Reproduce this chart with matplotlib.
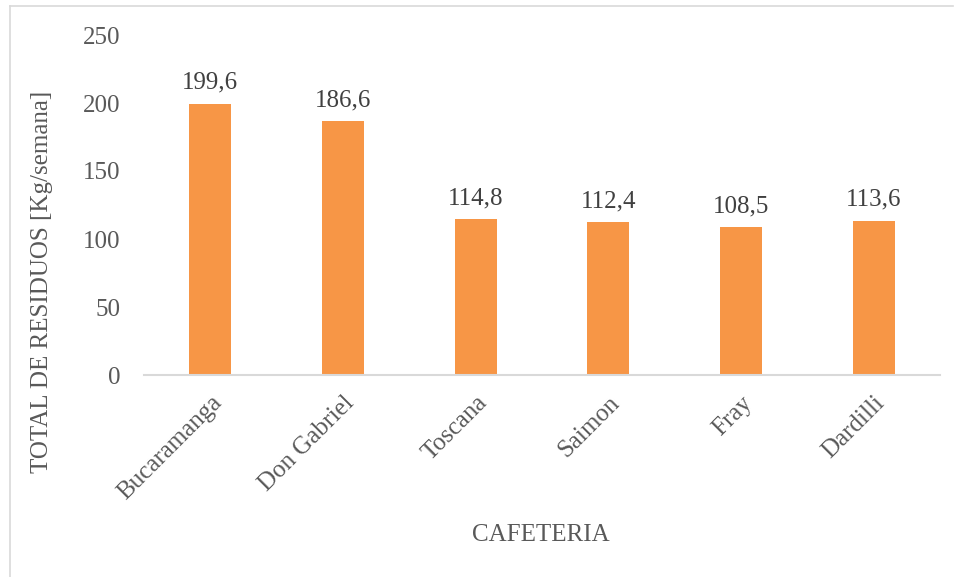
import matplotlib
matplotlib.use("Agg")
import matplotlib.pyplot as plt
from matplotlib.lines import Line2D

cafeterias = ["Bucaramanga", "Don Gabriel", "Toscana", "Saimon", "Fray", "Dardilli"]
residuos = [199.6, 186.6, 114.8, 112.4, 108.5, 113.6]
y_ticks = [0, 50, 100, 150, 200, 250]

bar_color = "#F79646"
text_color = "#595959"
label_color = "#404040"
fs = 18

plt.rcParams["font.family"] = ["Liberation Serif", "DejaVu Serif"]

fig = plt.figure(figsize=(9.61, 5.77), dpi=100)
ax = fig.add_axes([144 / 961, 1 - 375 / 577, 796 / 961, 340 / 577])

x = range(len(cafeterias))
bars = ax.bar(x, residuos, width=0.317, color=bar_color, zorder=2)

for rect, val in zip(bars, residuos):
    ax.annotate(f"{val:.1f}".replace(".", ","),
                (rect.get_x() + rect.get_width() / 2, rect.get_height()),
                xytext=(0, 7), textcoords="offset points",
                ha="center", va="bottom", fontsize=fs, color=label_color)

ax.set_xlim(-0.5, len(cafeterias) - 0.5)
ax.set_ylim(0, 250)
ax.set_yticks(y_ticks)
ax.set_yticklabels([str(t) for t in y_ticks])
ax.set_xticks(list(x))
ax.set_xticklabels(cafeterias, rotation=45, ha="right", rotation_mode="anchor")

ax.tick_params(axis="y", length=0, pad=17, labelsize=fs, labelcolor=text_color)
ax.tick_params(axis="x", length=0, pad=12, labelsize=fs, labelcolor=text_color)

for side in ["top", "right", "left"]:
    ax.spines[side].set_visible(False)
ax.spines["bottom"].set_color("#D9D9D9")
ax.spines["bottom"].set_linewidth(1.5)

fig.text(42 / 961, 1 - 282 / 577, "TOTAL DE RESIDUOS [Kg/semana]", rotation=90,
         ha="center", va="center", fontsize=fs, color=text_color)
fig.text(541 / 961, 1 - 535 / 577, "CAFETERIA", ha="center", va="center",
         fontsize=fs, color=text_color)

# chart frame (left and top edges visible)
fig.add_artist(Line2D([10 / 961, 10 / 961], [0, 1 - 6 / 577], color="#D9D9D9", lw=1.2))
fig.add_artist(Line2D([10 / 961, 953 / 961], [1 - 6 / 577, 1 - 6 / 577], color="#D9D9D9", lw=1.2))

fig.savefig("out.png", dpi=100)
